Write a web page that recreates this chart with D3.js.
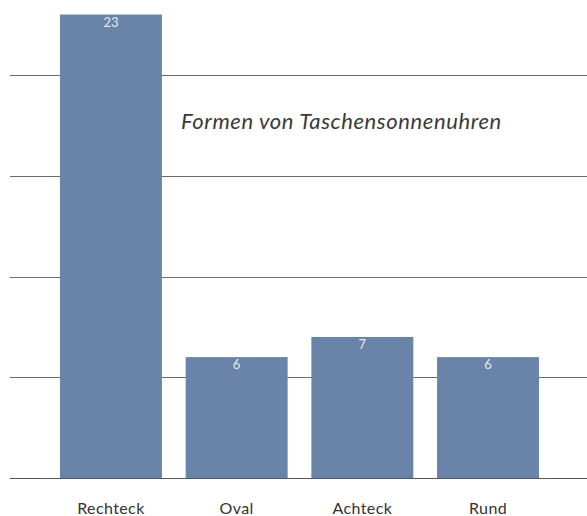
<!DOCTYPE html>
<html>
<head>
<meta charset="utf-8">
<script src="https://cdn.jsdelivr.net/npm/d3@7"></script>
<style>
  body { margin: 0; background: #fff; }
  text { font-family: Lato, "Open Sans", sans-serif; }
</style>
</head>
<body>
<div id="main"></div>
<script>
var categories = ["Rechteck", "Oval", "Achteck", "Rund"];
var counts = [23, 6, 7, 6];
var gridTicks = [5, 10, 15, 20];
var title = "Formen von Taschensonnenuhren";

var width = 587;
var height = 516;

var svg = d3.select("#main").append("svg")
  .attr("width", width)
  .attr("height", height);

var x = d3.scaleBand()
  .domain(categories)
  .range([47.4, 551.6])
  .paddingInner(0.189)
  .paddingOuter(0.1);

var y = d3.scaleLinear()
  .domain([0, 20])
  .range([478, 75]);

// grid lines
svg.selectAll("line.grid")
  .data(gridTicks)
  .enter().append("line")
  .attr("class", "grid")
  .attr("x1", 10)
  .attr("x2", width)
  .attr("y1", function(d) { return Math.round(y(d)) + 0.5; })
  .attr("y2", function(d) { return Math.round(y(d)) + 0.5; })
  .attr("stroke", "#6b6b6b")
  .attr("stroke-width", 1);

// bars
svg.selectAll("rect.bar")
  .data(counts)
  .enter().append("rect")
  .attr("class", "bar")
  .attr("x", function(d, i) { return x(categories[i]); })
  .attr("width", x.bandwidth())
  .attr("y", function(d) { return y(d); })
  .attr("height", function(d) { return y(0) - y(d); })
  .attr("fill", "#6a84a9");

// baseline
svg.append("line")
  .attr("x1", 10)
  .attr("x2", width)
  .attr("y1", y(0) + 0.5)
  .attr("y2", y(0) + 0.5)
  .attr("stroke", "#555")
  .attr("stroke-width", 1.2);

// value labels
svg.selectAll("text.val")
  .data(counts)
  .enter().append("text")
  .attr("class", "val")
  .attr("x", function(d, i) { return x(categories[i]) + x.bandwidth() / 2; })
  .attr("y", function(d) { return y(d) + 12; })
  .attr("text-anchor", "middle")
  .attr("font-size", 13)
  .attr("fill", "#e4e9f1")
  .text(function(d) { return d; });

// category labels
svg.selectAll("text.cat")
  .data(categories)
  .enter().append("text")
  .attr("class", "cat")
  .attr("x", function(d) { return x(d) + x.bandwidth() / 2; })
  .attr("y", 514)
  .attr("text-anchor", "middle")
  .attr("font-size", 16)
  .attr("letter-spacing", 0.4)
  .attr("fill", "#333")
  .text(function(d) { return d; });

// title
svg.append("text")
  .attr("x", 181)
  .attr("y", 129)
  .attr("font-size", 22)
  .attr("font-style", "italic")
  .attr("letter-spacing", 0.6)
  .attr("fill", "#3a3a3a")
  .text(title);
</script>
</body>
</html>
